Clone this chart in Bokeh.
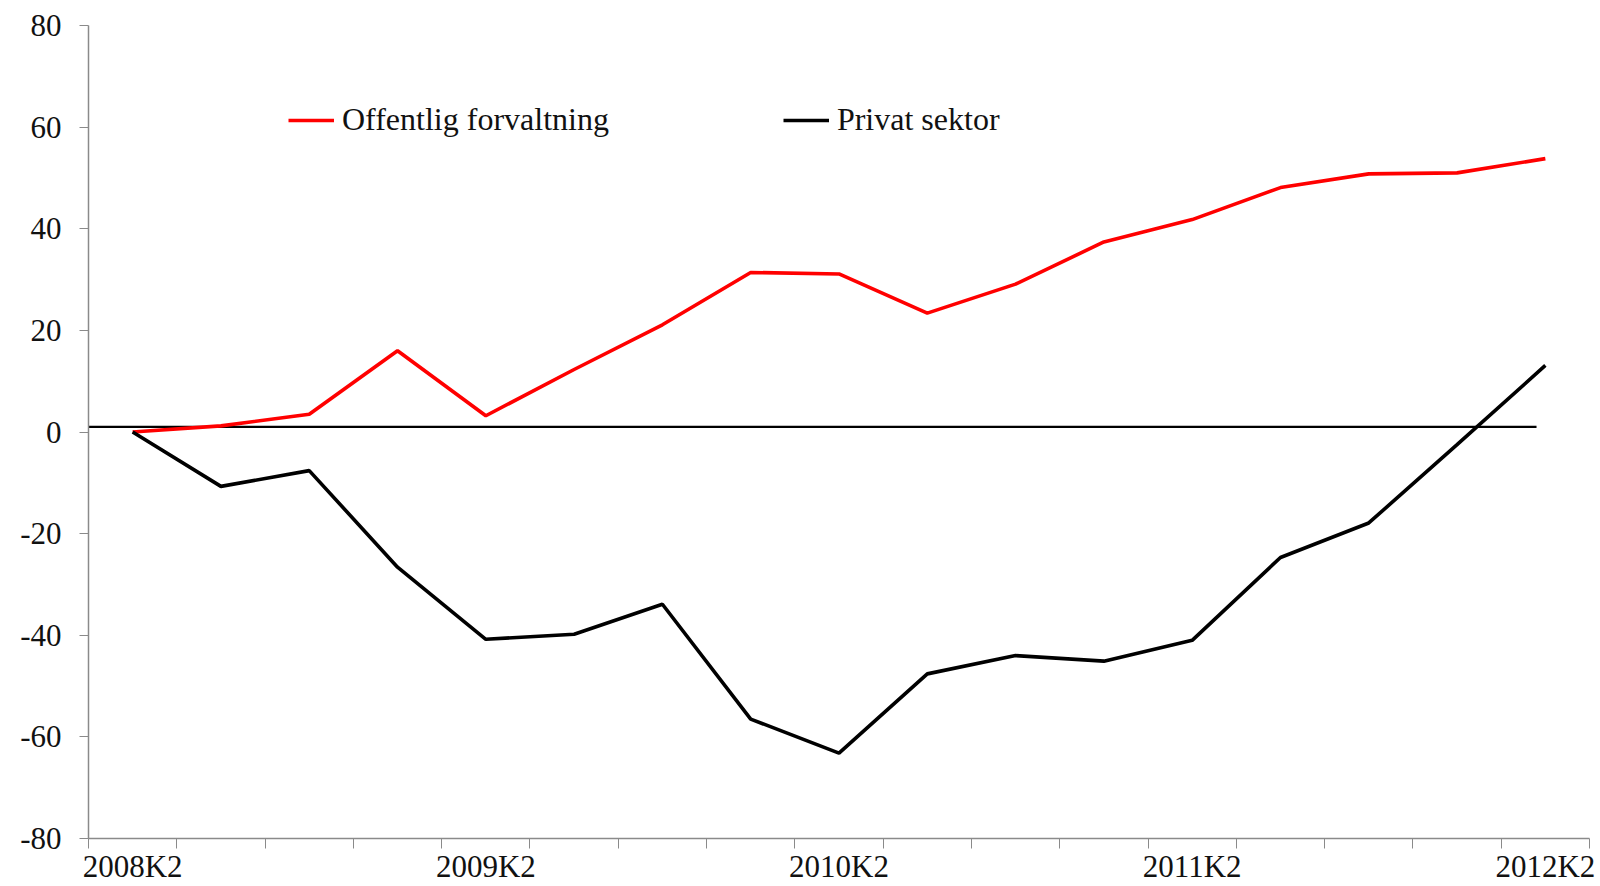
from bokeh.plotting import figure
from bokeh.models import (Range1d, FixedTicker, Legend, LegendItem, ColumnDataSource)
from bokeh.embed import file_html
from bokeh.resources import INLINE

# ---- data ----
quarters = ["2008K2", "2008K3", "2008K4",
            "2009K1", "2009K2", "2009K3", "2009K4",
            "2010K1", "2010K2", "2010K3", "2010K4",
            "2011K1", "2011K2", "2011K3", "2011K4",
            "2012K1", "2012K2"]
offentlig = [0, 1.2, 3.5, 16.0, 3.2, 12.3, 21.1, 31.4, 31.1, 23.4, 29.1,
             37.4, 41.8, 48.1, 50.8, 51.0, 53.8]
privat = [0, -10.7, -7.6, -26.6, -40.8, -39.8, -33.9, -56.5, -63.2, -47.6,
          -44.0, -45.1, -41.0, -24.7, -17.9, -2.5, 13.1]
labelled = ["2008K2", "2009K2", "2010K2", "2011K2", "2012K2"]
y_ticks = [-80, -60, -40, -20, 0, 20, 40, 60, 80]
ref_level = 1.0

FONT = "Liberation Serif"
AXIS_GREY = "#8a8a8a"

xpos = [i + 0.5 for i in range(len(quarters))]

p = figure(width=1600, height=886, output_backend="svg", toolbar_location=None,
           x_range=Range1d(0, len(quarters)), y_range=Range1d(-80, 80),
           min_border_left=88, min_border_right=11, min_border_top=25,
           min_border_bottom=48)
p.outline_line_color = None
p.xgrid.grid_line_color = None
p.ygrid.grid_line_color = None
p.background_fill_color = "white"

# reference line
p.segment(x0=[0], y0=[ref_level], x1=[16.4], y1=[ref_level],
          line_color="black", line_width=2.2)

src = ColumnDataSource(dict(x=xpos, off=offentlig, priv=privat))
r_off = p.line("x", "off", source=src, line_color="#ff0000", line_width=3.6)
r_priv = p.line("x", "priv", source=src, line_color="black", line_width=3.6)

# x axis: labels at category centres, ticks at category boundaries
lab_pos = [quarters.index(q) + 0.5 for q in labelled]
p.xaxis.ticker = FixedTicker(ticks=lab_pos,
                             minor_ticks=list(range(len(quarters) + 1)))
p.xaxis.major_label_overrides = {pos: q for pos, q in zip(lab_pos, labelled)}
p.xaxis.major_tick_out = 0
p.xaxis.major_tick_in = 0
p.xaxis.minor_tick_out = 10
p.xaxis.minor_tick_in = 0
p.xaxis.minor_tick_line_color = AXIS_GREY
p.xaxis.axis_line_color = AXIS_GREY
p.xaxis.axis_line_width = 1.5
p.xaxis.major_label_standoff = 0

# y axis
p.yaxis.ticker = FixedTicker(ticks=y_ticks)
p.yaxis.major_label_overrides = {t: str(t) for t in y_ticks}
p.yaxis.major_tick_out = 9
p.yaxis.major_tick_in = 0
p.yaxis.minor_tick_line_color = None
p.yaxis.major_tick_line_color = AXIS_GREY
p.yaxis.axis_line_color = AXIS_GREY
p.yaxis.axis_line_width = 1.5
p.yaxis.major_label_standoff = 18

for ax in (p.xaxis, p.yaxis):
    ax.major_label_text_font = FONT
    ax.major_label_text_font_size = "31px"
    ax.major_label_text_color = "#111111"

legend = Legend(items=[LegendItem(label="Offentlig forvaltning", renderers=[r_off]),
                       LegendItem(label="Privat sektor", renderers=[r_priv])],
                orientation="horizontal", location=(200, 700),
                spacing=174, padding=0, margin=0,
                glyph_width=46, glyph_height=34, label_height=34,
                label_standoff=8, border_line_color=None,
                background_fill_alpha=0,
                label_text_font=FONT, label_text_font_size="32px",
                label_text_color="#111111")
p.add_layout(legend)

open("out.html", "w").write(file_html(p, INLINE))
